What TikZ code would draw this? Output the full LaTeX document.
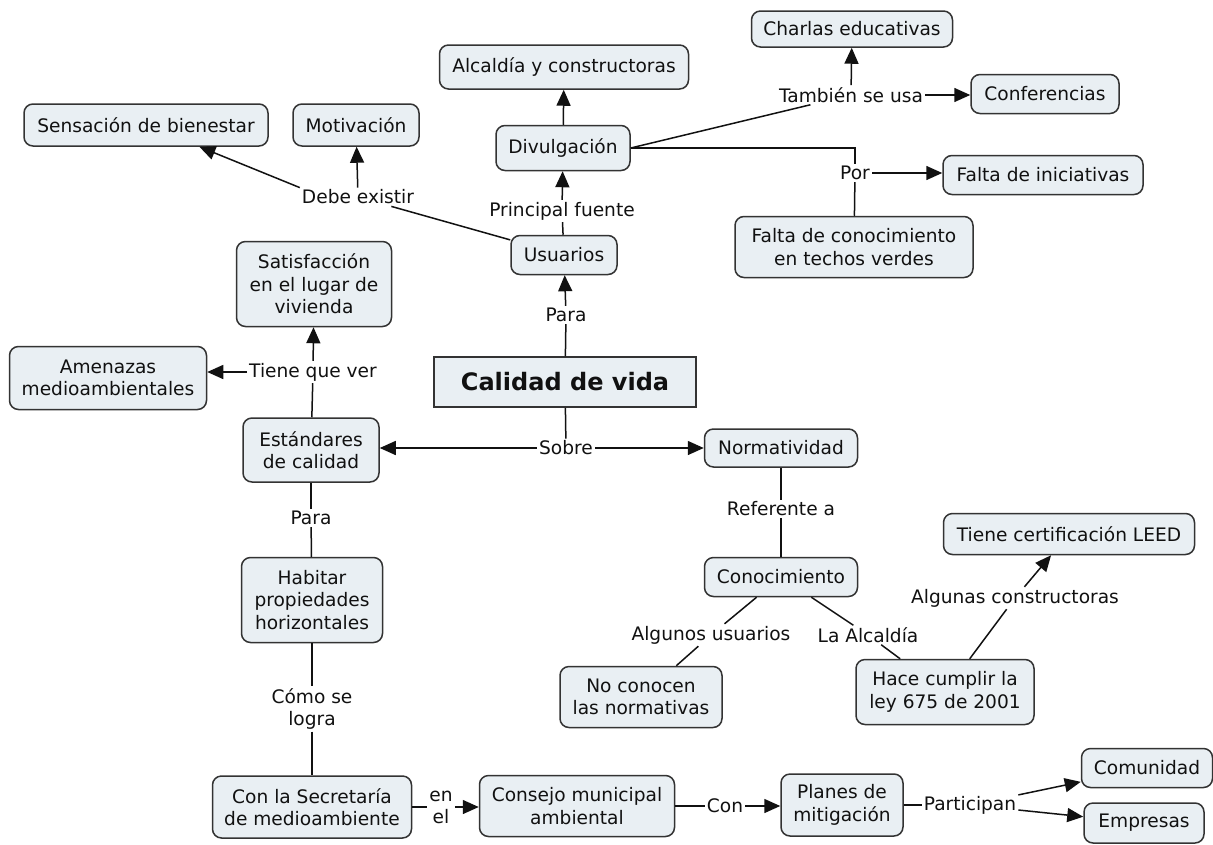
\documentclass[tikz,border=0pt]{standalone}
\usepackage{fontspec}
\setmainfont{DejaVu Sans}
\usetikzlibrary{arrows.meta}
\definecolor{boxfill}{HTML}{E9EFF3}
\definecolor{boxline}{HTML}{333333}
\definecolor{txt}{HTML}{111111}
\begin{document}
\begin{tikzpicture}[x=1pt,y=-1pt,
  concept/.style={draw=boxline, fill=boxfill, line width=1.5pt, rounded corners=9pt, align=center, text=txt, font=\fontsize{18.6}{22.5}\selectfont, inner sep=0pt},
  mainbox/.style={draw=boxline, fill=boxfill, line width=1.5pt, align=center, text=txt, font=\bfseries\fontsize{24}{28}\selectfont, inner sep=0pt},
  lbl/.style={text=txt, font=\fontsize{18.6}{22}\selectfont, align=center, inner sep=2pt},
  link/.style={line width=1.5pt, draw=txt},
  arr/.style={link, -{Triangle[length=16pt,width=14pt]}},
]
\fill[white] (0,0) rectangle (1213,844);
\useasboundingbox (0,0) rectangle (1213,844);

% concepts
\node[concept, minimum width=201pt, minimum height=36pt] (charlas) at (852,29) {Charlas educativas};
\node[concept, minimum width=249pt, minimum height=44pt] (alcaldia) at (564,67) {Alcaldía y constructoras};
\node[concept, minimum width=148pt, minimum height=39pt] (conf) at (1045,94) {Conferencias};
\node[concept, minimum width=244pt, minimum height=42pt] (sensacion) at (146,125) {Sensación de bienestar};
\node[concept, minimum width=126pt, minimum height=42pt] (motiv) at (356,125) {Motivación};
\node[concept, minimum width=134pt, minimum height=45pt] (divul) at (563,148) {Divulgación};
\node[concept, minimum width=200pt, minimum height=39pt] (faltaini) at (1043,175) {Falta de iniciativas};
\node[concept, minimum width=106pt, minimum height=39pt] (usuarios) at (564,255) {Usuarios};
\node[concept, minimum width=238pt, minimum height=61pt] (faltacon) at (854,247) {Falta de conocimiento\\en techos verdes};
\node[concept, minimum width=155pt, minimum height=85pt] (satisf) at (314,284) {Satisfacción\\en el lugar de\\vivienda};
\node[concept, minimum width=197pt, minimum height=63pt] (amenazas) at (108,378) {Amenazas\\medioambientales};
\node[mainbox, minimum width=262pt, minimum height=50pt] (calidad) at (565,382) {Calidad de vida};
\node[concept, minimum width=136pt, minimum height=64pt] (estand) at (311,450) {Estándares\\de calidad};
\node[concept, minimum width=153pt, minimum height=38pt] (normat) at (781,448) {Normatividad};
\node[concept, minimum width=251pt, minimum height=41pt] (leed) at (1069,534) {Tiene certificación LEED};
\node[concept, minimum width=141pt, minimum height=85pt] (habitar) at (312,600) {Habitar\\propiedades\\horizontales};
\node[concept, minimum width=153pt, minimum height=39pt] (conoc) at (781,577) {Conocimiento};
\node[concept, minimum width=162pt, minimum height=61pt] (noconoc) at (641,697) {No conocen\\las normativas};
\node[concept, minimum width=178pt, minimum height=65pt] (hace) at (945,692) {Hace cumplir la\\ley 675 de 2001};
\node[concept, minimum width=199pt, minimum height=62pt] (secret) at (312,807) {Con la Secretaría\\de medioambiente};
\node[concept, minimum width=195pt, minimum height=61pt] (consejo) at (577,806) {Consejo municipal\\ambiental};
\node[concept, minimum width=122pt, minimum height=62pt] (planes) at (842,805) {Planes de\\mitigación};
\node[concept, minimum width=131pt, minimum height=39pt] (comun) at (1147,768) {Comunidad};
\node[concept, minimum width=120pt, minimum height=40pt] (empresas) at (1144,823) {Empresas};

% link labels
\node[lbl] (debe) at (358,197) {Debe existir};
\node[lbl] (principal) at (562,211) {Principal fuente};
\node[lbl] (tambien) at (851,95) {También se usa};
\node[lbl] (por) at (855,173) {Por};
\node[lbl] (para1) at (566,315) {Para};
\node[lbl] (tiene) at (313,372) {Tiene que ver};
\node[lbl] (sobre) at (566,448) {Sobre};
\node[lbl] (para2) at (311,518) {Para};
\node[lbl] (refer) at (781,509) {Referente a};
\node[lbl] (algusu) at (711,635) {Algunos usuarios};
\node[lbl] (laalc) at (868,635) {La Alcaldía};
\node[lbl] (algcon) at (1015,598) {Algunas constructoras};
\node[lbl] (como) at (312,709) {Cómo se\\logra};
\node[lbl] (enel) at (441,807) {en\\el};
\node[lbl] (con) at (725,806) {Con};
\node[lbl] (partic) at (970,805) {Participan};

% connectors
\draw[link] (usuarios) -- (debe);
\draw[arr] (debe.north west) -- (sensacion);
\draw[arr] (debe) -- (motiv);

\draw[link] (usuarios) -- (principal);
\draw[arr] (principal) -- (divul);
\draw[arr] (divul) -- (alcaldia);

\draw[link] (divul.east) -- (tambien);
\draw[arr] (tambien) -- (charlas);
\draw[arr] (tambien) -- (tambien -| conf.west);

\draw[link] (divul.east) -| (por.north);
\draw[arr] (por) -- (por -| faltaini.west);
\draw[link] (faltacon) -- (por);

\draw[link] (calidad) -- (para1);
\draw[arr] (para1) -- (usuarios);

\draw[link] (calidad) -- (sobre);
\draw[arr] (sobre) -- (sobre -| estand.east);
\draw[arr] (sobre) -- (sobre -| normat.west);

\draw[link] (estand) -- (tiene);
\draw[arr] (tiene) -- (satisf);
\draw[arr] (tiene) -- (tiene -| amenazas.east);

\draw[link] (estand) -- (para2);
\draw[link] (para2) -- (habitar);
\draw[link] (habitar) -- (como);
\draw[link] (como) -- (secret);

\draw[link] (secret) -- (enel);
\draw[arr] (enel) -- (enel -| consejo.west);
\draw[link] (consejo) -- (con);
\draw[arr] (con) -- (con -| planes.west);
\draw[link] (planes) -- (partic);
\draw[arr] (partic) -- (comun);
\draw[arr] (partic) -- (empresas);

\draw[link] (normat) -- (refer);
\draw[link] (refer) -- (conoc);
\draw[link] (conoc) -- (algusu);
\draw[link] (algusu) -- (noconoc);
\draw[link] (conoc) -- (laalc);
\draw[link] (laalc) -- (hace);
\draw[link] (hace) -- (algcon);
\draw[arr] (algcon) -- (leed);
\end{tikzpicture}
\end{document}
